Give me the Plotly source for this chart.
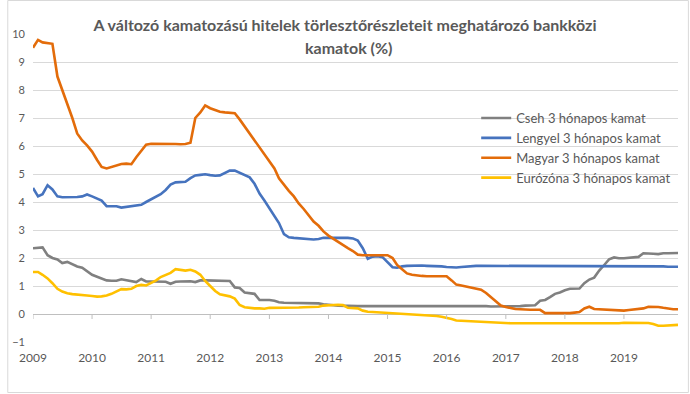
import pandas as pd
import plotly.graph_objects as go

dates = pd.date_range("2009-01-01", periods=132, freq="MS")
years = list(range(2009, 2020))
year_labels = [str(y) for y in years]

title_line1 = "A változó kamatozású hitelek törlesztőrészleteit meghatározó bankközi"
title_line2 = "kamatok (%)"

names = ["Cseh 3 hónapos kamat", "Lengyel 3 hónapos kamat",
         "Magyar 3 hónapos kamat", "Eurózóna 3 hónapos kamat"]

cseh = [
    2.35, 2.37, 2.38, 2.1, 2.0, 1.95, 1.82, 1.86, 1.78, 1.7, 1.65, 1.52,
    1.4, 1.33, 1.28, 1.2, 1.19, 1.19, 1.24, 1.2, 1.18, 1.14, 1.25, 1.16,
    1.16, 1.16, 1.15, 1.15, 1.08, 1.15, 1.16, 1.17, 1.17, 1.14, 1.2, 1.2,
    1.2, 1.19, 1.18, 1.19, 1.18, 0.95, 0.93, 0.77, 0.74, 0.72, 0.5, 0.5,
    0.5, 0.47, 0.42, 0.4, 0.4, 0.4, 0.4, 0.4, 0.4, 0.39, 0.38, 0.35,
    0.32, 0.31, 0.3, 0.29, 0.28, 0.28, 0.28, 0.28, 0.28, 0.28, 0.28, 0.28,
    0.28, 0.28, 0.28, 0.28, 0.28, 0.28, 0.28, 0.29, 0.3, 0.3, 0.3, 0.3,
    0.29, 0.29, 0.3, 0.29, 0.29, 0.28, 0.28, 0.28, 0.28, 0.27, 0.27, 0.27,
    0.27, 0.26, 0.27, 0.28, 0.3, 0.3, 0.31, 0.47, 0.5, 0.6, 0.72, 0.77,
    0.85, 0.9, 0.9, 0.91, 1.1, 1.23, 1.3, 1.55, 1.75, 1.95, 2.02, 1.99,
    1.99, 2.0, 2.02, 2.04, 2.17, 2.17, 2.15, 2.14, 2.17, 2.17, 2.18, 2.18,
]

lengyel = [
    4.5, 4.2, 4.28, 4.6, 4.45, 4.2, 4.17, 4.17, 4.17, 4.18, 4.2, 4.27,
    4.2, 4.13, 4.05, 3.85, 3.86, 3.85, 3.8, 3.82, 3.84, 3.86, 3.9, 4.0,
    4.1, 4.18, 4.28, 4.43, 4.62, 4.7, 4.71, 4.72, 4.85, 4.95, 4.97, 4.99,
    4.96, 4.94, 4.95, 5.05, 5.12, 5.12, 5.05, 4.96, 4.88, 4.65, 4.3, 4.05,
    3.77, 3.5, 3.25, 2.85, 2.74, 2.72, 2.71, 2.7, 2.68, 2.66, 2.68, 2.72,
    2.72, 2.72, 2.73, 2.73, 2.72, 2.7, 2.62, 2.35, 1.97, 2.05, 2.06, 2.03,
    1.85, 1.67, 1.65, 1.7, 1.72, 1.73, 1.73, 1.73, 1.72, 1.72, 1.72, 1.7,
    1.68, 1.66, 1.66, 1.68, 1.7, 1.71, 1.72, 1.72, 1.72, 1.72, 1.72, 1.72,
    1.72, 1.72, 1.72, 1.72, 1.72, 1.72, 1.72, 1.72, 1.72, 1.72, 1.72, 1.72,
    1.7, 1.7, 1.7, 1.7, 1.7, 1.71, 1.71, 1.71, 1.71, 1.71, 1.71, 1.71,
    1.71, 1.71, 1.71, 1.71, 1.71, 1.71, 1.71, 1.7, 1.7, 1.69, 1.69, 1.69,
]

magyar = [
    9.51, 9.79, 9.70, 9.68, 9.65, 8.48, 8.0, 7.5, 7.0, 6.45, 6.2, 6.02,
    5.8, 5.5, 5.25, 5.2, 5.25, 5.3, 5.36, 5.37, 5.35, 5.6, 5.85, 6.05,
    6.08, 6.08, 6.09, 6.09, 6.08, 6.07, 6.06, 6.07, 6.12, 7.0, 7.2, 7.45,
    7.35, 7.28, 7.22, 7.2, 7.18, 7.17, 6.95, 6.7, 6.45, 6.2, 5.95, 5.7,
    5.45, 5.2, 4.85, 4.6, 4.4, 4.2, 3.95, 3.75, 3.5, 3.3, 3.15, 2.95,
    2.8, 2.68, 2.58, 2.48, 2.35, 2.25, 2.12, 2.1, 2.1, 2.1, 2.1, 2.1,
    2.1, 2.0, 1.75, 1.6, 1.45, 1.4, 1.37, 1.36, 1.35, 1.35, 1.35, 1.35,
    1.35, 1.2, 1.05, 1.02, 0.98, 0.93, 0.9, 0.87, 0.75, 0.6, 0.45, 0.3,
    0.25, 0.2, 0.18, 0.17, 0.15, 0.15, 0.15, 0.15, 0.03, 0.03, 0.03, 0.03,
    0.02, 0.03, 0.05, 0.07, 0.2, 0.26, 0.18, 0.17, 0.16, 0.16, 0.15, 0.12,
    0.12, 0.14, 0.16, 0.17, 0.2, 0.26, 0.26, 0.25, 0.22, 0.19, 0.17, 0.17,
]

eurozona = [
    1.5, 1.5, 1.4, 1.27, 1.1, 0.9, 0.8, 0.74, 0.71, 0.7, 0.69, 0.66,
    0.64, 0.62, 0.63, 0.66, 0.72, 0.8, 0.89, 0.88, 0.9, 1.0, 1.04, 1.02,
    1.1, 1.2, 1.32, 1.4, 1.47, 1.6, 1.57, 1.55, 1.58, 1.52, 1.4, 1.18,
    1.0, 0.82, 0.7, 0.66, 0.63, 0.55, 0.32, 0.24, 0.21, 0.2, 0.2, 0.19,
    0.22, 0.22, 0.21, 0.21, 0.22, 0.23, 0.23, 0.24, 0.24, 0.25, 0.26, 0.3,
    0.32, 0.32, 0.33, 0.32, 0.22, 0.2, 0.2, 0.12, 0.08, 0.07, 0.06, 0.05,
    0.04, 0.03, 0.01, 0.0, -0.01, -0.01, -0.02, -0.02, -0.04, -0.05, -0.07, -0.1,
    -0.13, -0.18, -0.23, -0.24, -0.25, -0.26, -0.27, -0.28, -0.3, -0.3, -0.31, -0.32,
    -0.33, -0.33, -0.33, -0.33, -0.34, -0.33, -0.33, -0.33, -0.33, -0.33, -0.33, -0.33,
    -0.33, -0.33, -0.33, -0.33, -0.33, -0.33, -0.33, -0.33, -0.33, -0.33, -0.33, -0.33,
    -0.31, -0.31, -0.31, -0.31, -0.31, -0.32, -0.36, -0.42, -0.42, -0.41, -0.4, -0.39,
]

series = [cseh, lengyel, magyar, eurozona]
colors = ["#808080", "#4673BE", "#E36C0A", "#FFC000"]

W, H = 690, 394
ML, MR, MT, MB = 26, 12, 34, 52
PW, PH = W - ML - MR, H - MT - MB

fig = go.Figure()
for name, vals, col in zip(names, series, colors):
    fig.add_trace(go.Scatter(x=dates, y=vals, name=name, mode="lines",
                             line=dict(color=col, width=2.6)))

year_dates = [pd.Timestamp(f"{y}-01-01") for y in years]

shapes = []
for d in year_dates:
    shapes.append(dict(type="line", xref="x", yref="y", x0=d, x1=d,
                       ysizemode="pixel", yanchor=0, y0=0, y1=-5,
                       line=dict(color="#bfbfbf", width=1)))
shapes.append(dict(type="rect", xref="paper", yref="paper",
                   x0=-(ML - 0.5) / PW, x1=1 + (MR - 1.5) / PW,
                   y0=-(MB - 1.5) / PH, y1=1 + (MT - 0.5) / PH,
                   line=dict(color="#d9d9d9", width=1), layer="below"))

title_font = dict(family="Lato", size=16, color="#595959", weight="bold")

fig.update_layout(
    width=W, height=H,
    margin=dict(l=ML, r=MR, t=MT, b=MB),
    paper_bgcolor="white", plot_bgcolor="white",
    font=dict(family="Lato", color="#595959"),
    title=dict(text=title_line1, x=0.5, xanchor="center", xref="container",
               y=1 - 25 / H, yanchor="middle", yref="container", font=title_font),
    annotations=[dict(text=title_line2, xref="paper", yref="paper",
                      x=(W / 2 - ML) / PW, y=(H - MB - 47) / PH,
                      xanchor="center", yanchor="middle", showarrow=False,
                      font=title_font)],
    showlegend=True,
    legend=dict(x=(474 - ML) / PW, xanchor="left", y=(H - MB - 103) / PH, yanchor="top",
                bgcolor="rgba(0,0,0,0)", font=dict(size=13, color="#595959"),
                itemwidth=30, tracegroupgap=0),
    shapes=shapes,
    xaxis=dict(type="date", range=[dates[0], dates[-1]], showgrid=False,
               zeroline=False, showline=False, ticks="",
               tickvals=year_dates, ticktext=year_labels, ticklabelstandoff=7,
               tickfont=dict(size=12, color="#595959")),
    yaxis=dict(range=[-1, 10], dtick=1, tick0=0, showgrid=True, gridcolor="#d9d9d9",
               gridwidth=1, zeroline=True, zerolinecolor="#bfbfbf", zerolinewidth=1,
               showline=False, ticks="", ticklabelstandoff=7,
               tickfont=dict(size=11, color="#595959")),
)

fig.write_html("out.html", config={"displayModeBar": False},
               post_script="document.body.style.margin='0';")
